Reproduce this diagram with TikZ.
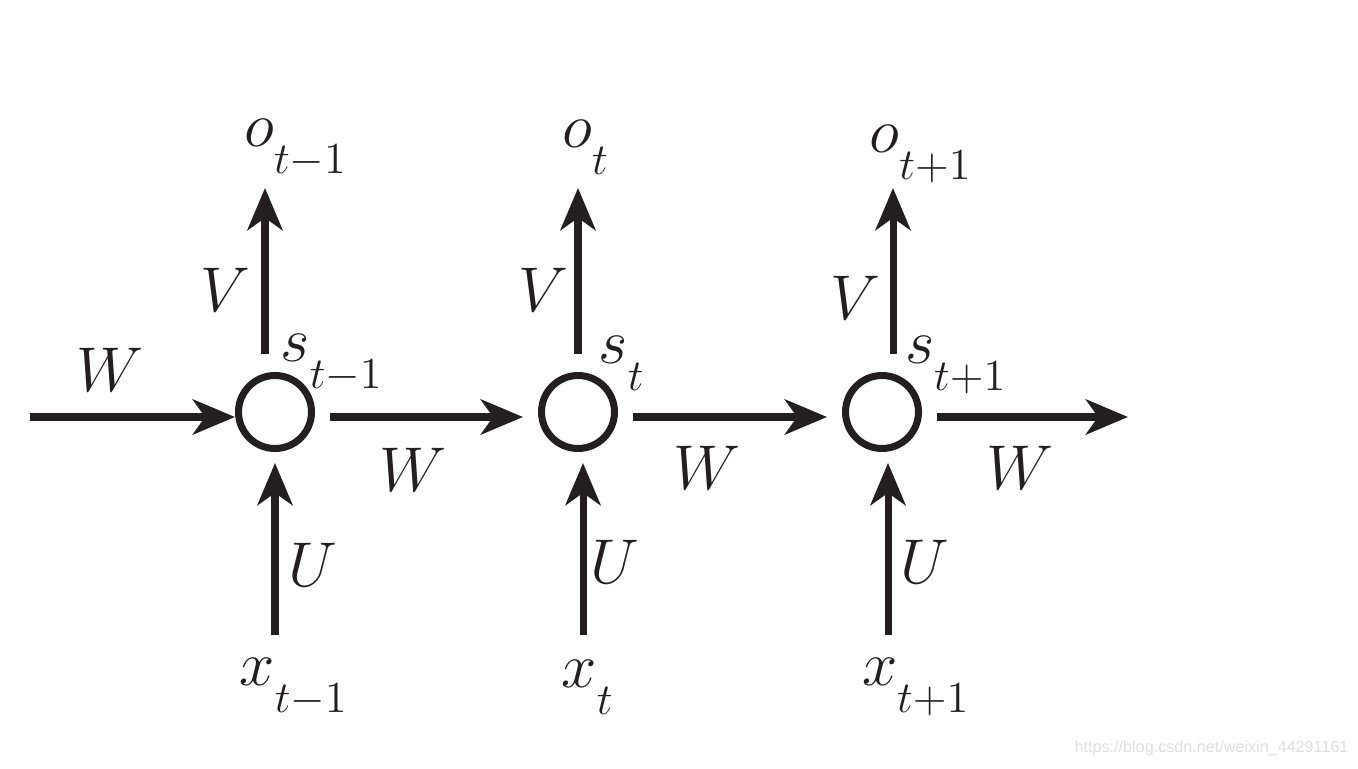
\RequirePackage{fix-cm}
\documentclass[tikz,border=0pt]{standalone}
\usepackage{fontspec}
\usetikzlibrary{arrows.meta,positioning}
\definecolor{InkBlack}{RGB}{35,31,32}
\definecolor{MarkGray}{RGB}{222,222,222}
\newfontfamily\markfont{Liberation Sans}
\newcommand{\rnnlab}[2]{$#1_{\raisebox{-5pt}{$\scriptstyle #2$}}$}

\begin{document}
\begin{tikzpicture}[>={Stealth[length=12pt,width=10pt,inset=3.5pt]},
    line width=2pt,InkBlack,
    cell/.style={circle,draw,line width=2pt,minimum size=0.73cm,inner sep=0pt},
    lab/.style={font=\fontsize{18}{22}\selectfont,inner sep=0pt}]
  \useasboundingbox (0,0) rectangle (13.58,7.68);
  % hidden states
  \node[cell] (s1) at (2.75,3.56) {};
  \node[cell] (s2) at (5.78,3.56) {};
  \node[cell] (s3) at (8.82,3.56) {};
  % free ends of the arrows
  \coordinate (in)  at (0.30,3.51);
  \coordinate (out) at (11.28,3.51);
  \coordinate (v1) at (2.65,5.80);
  \coordinate (v2) at (5.78,5.80);
  \coordinate (v3) at (8.93,5.80);
  \coordinate (u1) at (2.75,1.33);
  \coordinate (u2) at (5.83,1.33);
  \coordinate (u3) at (8.88,1.33);
  % W arrows
  \draw[->] (in) -- (in -| s1.west);
  \draw[->,shorten <=0.15cm,shorten >=0.15cm] (s1.east |- in) -- (s2.west |- in);
  \draw[->,shorten <=0.15cm,shorten >=0.15cm] (s2.east |- in) -- (s3.west |- in);
  \draw[->,shorten <=0.15cm] (s3.east |- out) -- (out);
  % V arrows
  \draw[->,shorten <=0.18cm] (v1 |- s1.north) -- (v1);
  \draw[->,shorten <=0.18cm] (v2 |- s2.north) -- (v2);
  \draw[->,shorten <=0.18cm] (v3 |- s3.north) -- (v3);
  % U arrows
  \draw[->,shorten >=0.11cm] (u1) -- (u1 |- s1.south);
  \draw[->,shorten >=0.11cm] (u2) -- (u2 |- s2.south);
  \draw[->,shorten >=0.11cm] (u3) -- (u3 |- s3.south);
  % labels
  \node[lab] (o1) at (2.96,6.20) {\rnnlab{o}{t-1}};
  \node[lab] (o2) at (5.86,6.21) {\rnnlab{o}{t}};
  \node[lab] (o3) at (9.21,6.14) {\rnnlab{o}{t+1}};
  \node[lab] (V1) at (2.25,4.78) {$V$};
  \node[lab] (V2) at (5.43,4.78) {$V$};
  \node[lab] (V3) at (8.55,4.70) {$V$};
  \node[lab] (st1) at (3.32,4.05) {\rnnlab{s}{t-1}};
  \node[lab] (st2) at (6.22,4.05) {\rnnlab{s}{t}};
  \node[lab] (st3) at (9.56,4.03) {\rnnlab{s}{t+1}};
  \node[lab] (W0) at (1.10,3.98) {$W$};
  \node[lab] (W1) at (4.13,2.98) {$W$};
  \node[lab] (W2) at (7.07,3.00) {$W$};
  \node[lab] (W3) at (10.20,3.00) {$W$};
  \node[lab] (U1) at (3.13,2.03) {$U$};
  \node[lab] (U2) at (6.15,2.06) {$U$};
  \node[lab] (U3) at (9.25,2.06) {$U$};
  \node[lab] (x1) at (2.94,0.81) {\rnnlab{x}{t-1}};
  \node[lab] (x2) at (5.88,0.81) {\rnnlab{x}{t}};
  \node[lab] (x3) at (9.16,0.81) {\rnnlab{x}{t+1}};
  \node[MarkGray,font=\markfont\fontsize{4.6}{5}\selectfont,anchor=east,inner sep=0pt]
    (mark) at (13.52,0.20) {https://blog.csdn.net/weixin\_44291161};
\end{tikzpicture}
\end{document}
